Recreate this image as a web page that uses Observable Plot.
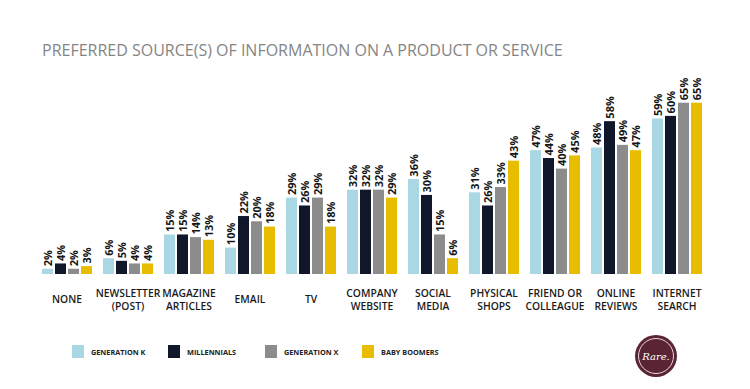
<!DOCTYPE html>
<html>
<head>
<meta charset="utf-8">
<script src="https://cdn.jsdelivr.net/npm/d3@7"></script>
<script src="https://cdn.jsdelivr.net/npm/@observablehq/plot@0.6"></script>
<style>
  html, body { margin: 0; padding: 0; background: #fff; }
  #wrap { position: relative; width: 750px; height: 389px; overflow: hidden; font-family: "Open Sans", sans-serif; }
  #title { position: absolute; left: 42px; top: 39px; font-size: 16px; color: #858585; white-space: nowrap; letter-spacing: 0px; }
  #chart { position: absolute; left: 0; top: 0; }
  #legend { position: absolute; left: 0; top: 0; width: 750px; height: 389px; pointer-events: none; }
  .li { position: absolute; top: 345px; display: flex; align-items: center; font-size: 7.3px; font-weight: 700; color: #222; white-space: nowrap; }
  .sw { width: 12px; height: 13px; margin-right: 7px; }
  #logo { position: absolute; left: 635px; top: 335px; width: 42px; height: 42px; border-radius: 50%; background: #5a2434; display: flex; align-items: center; justify-content: center; }
  #logo .ring { width: 36px; height: 36px; border-radius: 50%; border: 1px solid #e8d8dc; display: flex; align-items: center; justify-content: center; box-sizing: border-box; }
  #logo span { color: #fff; font-family: "DejaVu Serif", serif; font-style: italic; font-size: 10px; }
</style>
</head>
<body>
<div id="wrap">
  <div id="chart"></div>
  <div id="title">PREFERRED SOURCE(S) OF INFORMATION ON A PRODUCT OR SERVICE</div>
  <div id="legend"></div>
  <div id="logo"><div class="ring"><span>Rare.</span></div></div>
</div>
<script>
const categories = ["NONE", "NEWSLETTER\n(POST)", "MAGAZINE\nARTICLES", "EMAIL", "TV", "COMPANY\nWEBSITE", "SOCIAL\nMEDIA", "PHYSICAL\nSHOPS", "FRIEND OR\nCOLLEAGUE", "ONLINE\nREVIEWS", "INTERNET\nSEARCH"];
const seriesNames = ["GENERATION K", "MILLENNIALS", "GENERATION X", "BABY BOOMERS"];
const seriesColors = ["#a9d7e4", "#10172a", "#8c8c8c", "#e8bd00"];
const genK      = [2, 6, 15, 10, 29, 32, 36, 31, 47, 48, 59];
const millennials = [4, 5, 15, 22, 26, 32, 30, 26, 44, 58, 60];
const genX      = [2, 4, 14, 20, 29, 32, 15, 33, 40, 49, 65];
const boomers   = [3, 4, 13, 18, 18, 29, 6, 43, 45, 47, 65];
const seriesValues = [genK, millennials, genX, boomers];

const data = [];
categories.forEach((c, i) => {
  seriesNames.forEach((s, j) => {
    data.push({category: c, series: s, value: seriesValues[j][i]});
  });
});

const chart = Plot.plot({
  width: 750,
  height: 330,
  marginLeft: 36,
  marginRight: 42,
  marginTop: 102.7,
  marginBottom: 56,
  style: {fontFamily: "Open Sans, sans-serif", overflow: "visible"},
  fx: {domain: categories, paddingInner: 0.16, paddingOuter: 0, axis: null},
  x: {domain: seriesNames, paddingInner: 0.18, paddingOuter: 0, axis: null},
  y: {domain: [0, 65], axis: null},
  color: {domain: seriesNames, range: seriesColors},
  marks: [
    Plot.barY(data, {fx: "category", x: "series", y: "value", fill: "series"}),
    Plot.text(data, {fx: "category", x: "series", y: "value", text: d => d.value + "%", rotate: -90, textAnchor: "start", lineAnchor: "middle", dy: -3, fontSize: 11, fontWeight: 700, fill: "#151515"}),
    Plot.text(categories, {fx: d => d, text: d => d, frameAnchor: "bottom", dy: 24.5, lineAnchor: "middle", lineHeight: 1.25, fontSize: 10.3, fontWeight: 600, fill: "#1a1a1a"})
  ]
});
document.getElementById("chart").appendChild(chart);

const legendLefts = [72, 168, 265, 362];
const legend = document.getElementById("legend");
seriesNames.forEach((s, i) => {
  const item = document.createElement("div");
  item.className = "li";
  item.style.left = legendLefts[i] + "px";
  const sw = document.createElement("div");
  sw.className = "sw";
  sw.style.background = seriesColors[i];
  item.appendChild(sw);
  item.appendChild(document.createTextNode(s));
  legend.appendChild(item);
});
</script>
</body>
</html>
